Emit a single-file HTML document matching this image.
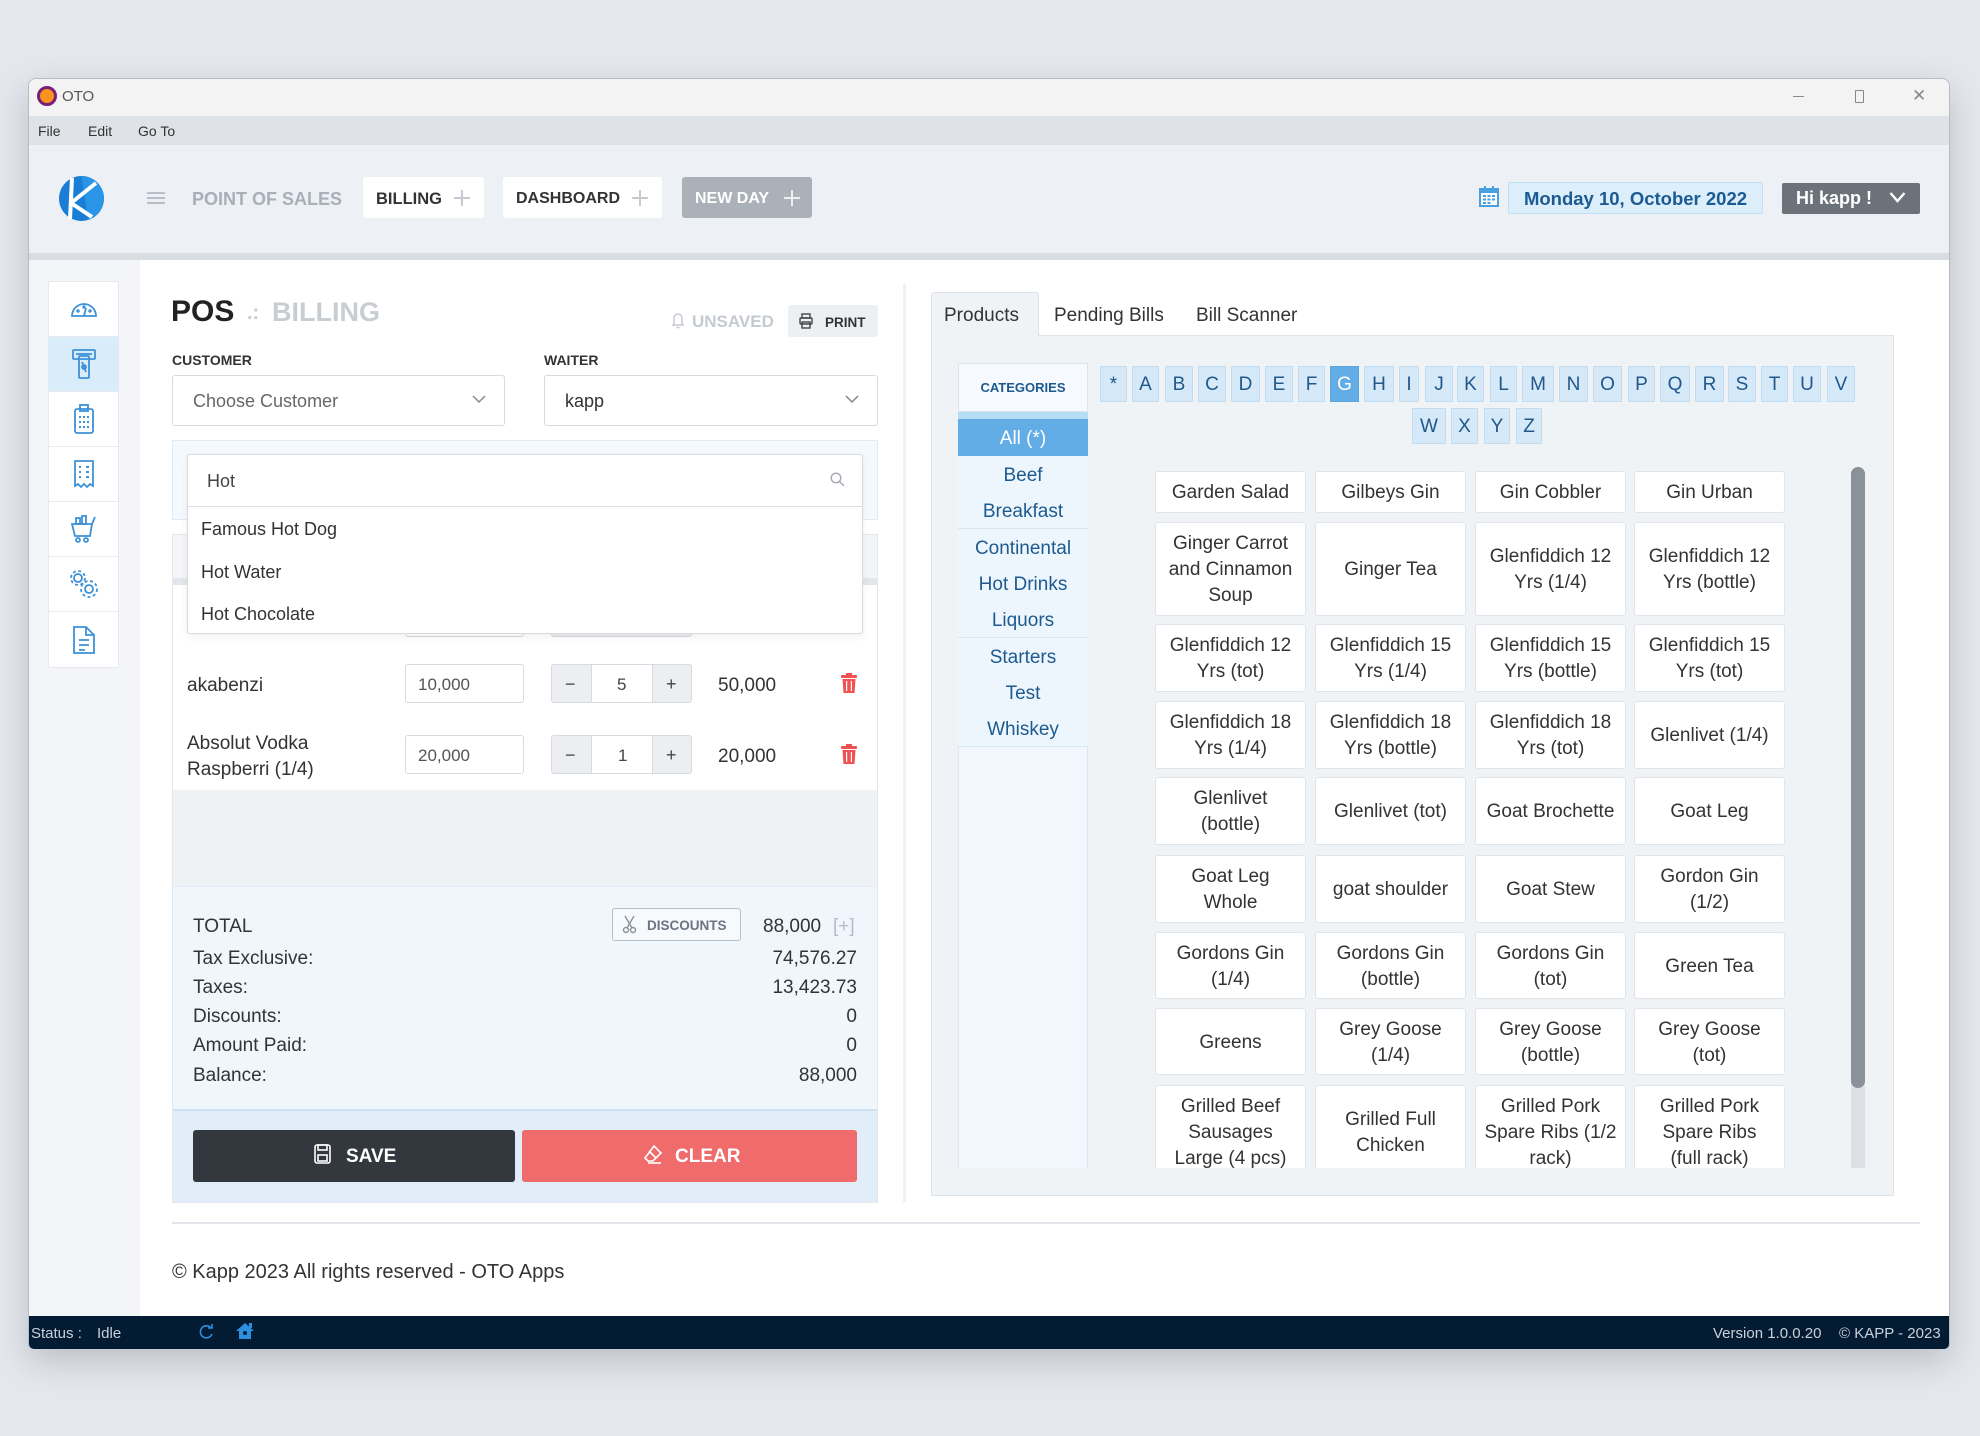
<!DOCTYPE html>
<html><head><meta charset="utf-8">
<style>
*{box-sizing:border-box;margin:0;padding:0}
body{width:1980px;height:1436px;background:#e4e8ee;position:relative;overflow:hidden;font-family:"Liberation Sans",Arial,sans-serif;color:#333}
.a{position:absolute}
.t{position:absolute;white-space:nowrap}
.lb{position:absolute;background:#d5e9f8;border:1px solid #c0ddf3;color:#21578b;font-size:19px;text-align:center;line-height:36px;height:36px}
.cat{position:absolute;left:958px;width:130px;height:37px;border-bottom:1px solid #d8e6f1;text-align:center;line-height:39px;font-size:19px;color:#1d5a8f;background:#eef6fd}
.pc{position:absolute;width:151px;background:#fff;border:1px solid #e1e5ea;border-radius:3px;display:flex;align-items:center;justify-content:center;text-align:center;font-size:19px;line-height:26px;color:#333;white-space:nowrap;padding-top:2px}
.side{position:absolute;left:49px;width:69px;height:55px;border-bottom:1px solid #e8ebef;display:flex;align-items:center;justify-content:center}
.inp{position:absolute;background:#fff;border:1px solid #d7dbe0;border-radius:3px}
.tr{position:absolute;font-size:19px;color:#333;line-height:24px;margin-top:2.5px;white-space:nowrap}
</style></head>
<body>
<!-- window -->
<div class="a" style="left:28px;top:78px;width:1922px;height:1271px;border-radius:8px 8px 5px 5px;box-shadow:0 12px 34px rgba(0,0,0,.18);background:#fff;border:1px solid #b8bcc2"></div>
<div class="a" style="left:29px;top:79px;width:1920px;height:37px;background:#f3f3f3;border-radius:8px 8px 0 0"></div>
<div class="a" style="left:29px;top:116px;width:1920px;height:29px;background:#dfe2e7"></div>
<div class="a" style="left:29px;top:145px;width:1920px;height:108px;background:#edf0f5"></div>
<div class="a" style="left:29px;top:253px;width:1920px;height:7px;background:#d9dde2"></div>
<div class="a" style="left:29px;top:260px;width:111px;height:1056px;background:#f3f5f8"></div>
<div class="a" style="left:29px;top:1316px;width:1920px;height:33px;background:#031c33;border-radius:0 0 5px 5px"></div>

<!-- title bar -->
<div class="a" style="left:37px;top:86px;width:20px;height:20px;border-radius:50%;background:#f7931e;border:3px solid #7b1e7a"></div>
<div class="t" style="left:62px;top:87px;font-size:15px;line-height:20px;color:#555">OTO</div>
<div class="a" style="left:1793px;top:96px;width:11px;height:1px;background:#888"></div>
<div class="a" style="left:1855px;top:90px;width:9px;height:13px;border:1px solid #888;border-radius:1px"></div>
<div class="t" style="left:1912px;top:86px;font-size:17px;line-height:20px;color:#888">✕</div>

<!-- menu -->
<div class="t" style="left:38px;top:122px;font-size:14px;line-height:18px">File</div>
<div class="t" style="left:88px;top:122px;font-size:14px;line-height:18px">Edit</div>
<div class="t" style="left:138px;top:122px;font-size:14px;line-height:18px">Go To</div>

<!-- header -->
<svg class="a" style="left:58px;top:175px" width="47" height="47" viewBox="0 0 47 47">
<circle cx="23.5" cy="23.5" r="22.5" fill="#1a7fd4"/>
<path d="M23.5 1 A22.5 22.5 0 0 1 46 23.5 A22.5 22.5 0 0 1 30 45 Z" fill="#2a95e6"/>
<path d="M14 3 L12 44" stroke="#fff" stroke-width="4"/>
<path d="M13 28 L38 8" stroke="#fff" stroke-width="4"/>
<path d="M13 28 L34 42" stroke="#fff" stroke-width="4"/>
</svg>
<div class="a" style="left:147px;top:192px;width:18px;height:2px;background:#b8bec7"></div>
<div class="a" style="left:147px;top:197px;width:18px;height:2px;background:#b8bec7"></div>
<div class="a" style="left:147px;top:202px;width:18px;height:2px;background:#b8bec7"></div>
<div class="t" style="left:192px;top:188px;font-size:18px;line-height:22px;font-weight:bold;color:#a9afb8">POINT OF SALES</div>

<div class="a" style="left:363px;top:177px;width:121px;height:41px;background:#fff;border-radius:3px"></div>
<div class="t" style="left:376px;top:188px;font-size:16.5px;line-height:22px;font-weight:bold;color:#333">BILLING</div>
<div class="a" style="left:454px;top:197px;width:16px;height:1.5px;background:#c6cbd1"></div>
<div class="a" style="left:461px;top:190px;width:1.5px;height:16px;background:#c6cbd1"></div>

<div class="a" style="left:503px;top:177px;width:159px;height:41px;background:#fff;border-radius:3px"></div>
<div class="t" style="left:516px;top:188px;font-size:16px;line-height:22px;font-weight:bold;color:#333">DASHBOARD</div>
<div class="a" style="left:632px;top:197px;width:16px;height:1.5px;background:#c6cbd1"></div>
<div class="a" style="left:639px;top:190px;width:1.5px;height:16px;background:#c6cbd1"></div>

<div class="a" style="left:682px;top:177px;width:130px;height:41px;background:#aab1b9;border-radius:3px"></div>
<div class="t" style="left:695px;top:188px;font-size:16px;line-height:22px;font-weight:bold;color:#fff">NEW DAY</div>
<div class="a" style="left:784px;top:197px;width:16px;height:1.5px;background:#eef0f3"></div>
<div class="a" style="left:791px;top:190px;width:1.5px;height:16px;background:#eef0f3"></div>

<!-- calendar -->
<svg class="a" style="left:1479px;top:186px" width="20" height="21" viewBox="0 0 20 21">
<rect x="1" y="3" width="18" height="17" fill="#fff" stroke="#4a9fe0" stroke-width="2"/>
<rect x="1" y="3" width="18" height="4" fill="#4a9fe0"/>
<rect x="5" y="0" width="2" height="5" fill="#4a9fe0"/><rect x="13" y="0" width="2" height="5" fill="#4a9fe0"/>
<g fill="#4a9fe0"><rect x="4" y="9" width="3" height="2"/><rect x="8.5" y="9" width="3" height="2"/><rect x="13" y="9" width="3" height="2"/><rect x="4" y="12.5" width="3" height="2"/><rect x="8.5" y="12.5" width="3" height="2"/><rect x="13" y="12.5" width="3" height="2"/><rect x="4" y="16" width="3" height="2"/><rect x="8.5" y="16" width="3" height="2"/></g>
</svg>
<div class="a" style="left:1508px;top:182px;width:255px;height:32px;background:#dbeefa;border:1px solid #bfdff5;border-radius:2px;text-align:center;line-height:31px;font-size:18.5px;font-weight:bold;color:#1c5a92">Monday 10, October 2022</div>
<div class="a" style="left:1782px;top:183px;width:138px;height:31px;background:#6b727a;border-radius:2px"></div>
<div class="t" style="left:1796px;top:187px;font-size:18px;line-height:23px;font-weight:bold;color:#fff">Hi kapp !</div>
<svg class="a" style="left:1889px;top:191px" width="17" height="12" viewBox="0 0 17 12"><path d="M1.5 2 L8.5 10 L15.5 2" fill="none" stroke="#fff" stroke-width="2.4"/></svg>

<!-- sidebar nav -->
<div class="a" style="left:48px;top:281px;width:71px;height:387px;background:#fff;border:1px solid #e6e9ed"></div>
<div class="side" style="top:282px">
<svg width="28" height="22" viewBox="0 0 28 22" fill="none" stroke="#3d91d8" stroke-width="1.8"><path d="M2 18 A12 12 0 0 1 26 18 Z"/><path d="M14 18 L16 10"/><circle cx="8" cy="13" r=".8"/><circle cx="14" cy="9" r=".8"/><circle cx="20" cy="13" r=".8"/></svg></div>
<div class="side" style="top:337px;background:#d9ecfa">
<svg width="26" height="32" viewBox="0 0 26 32" fill="none" stroke="#3d91d8" stroke-width="1.8"><rect x="2" y="2" width="22" height="9" rx="1"/><path d="M5 6 H21"/><rect x="8" y="8" width="10" height="22" rx="1"/><path d="M11 14 L15 24"/><circle cx="13" cy="19" r="2"/></svg></div>
<div class="side" style="top:392px">
<svg width="22" height="32" viewBox="0 0 22 32" fill="none" stroke="#3d91d8" stroke-width="1.8"><rect x="2" y="6" width="18" height="24" rx="2"/><rect x="7" y="2" width="8" height="6"/><g fill="#3d91d8" stroke="none"><rect x="6" y="13" width="2" height="2"/><rect x="10" y="13" width="2" height="2"/><rect x="14" y="13" width="2" height="2"/><rect x="6" y="18" width="2" height="2"/><rect x="10" y="18" width="2" height="2"/><rect x="14" y="18" width="2" height="2"/><rect x="6" y="23" width="2" height="2"/><rect x="10" y="23" width="2" height="2"/><rect x="14" y="23" width="2" height="2"/></g></svg></div>
<div class="side" style="top:447px">
<svg width="22" height="30" viewBox="0 0 22 30" fill="none" stroke="#3d91d8" stroke-width="1.8"><path d="M2 2 H20 V27 L17 25 L14 28 L11 25 L8 28 L5 25 L2 27 Z"/><g fill="#3d91d8" stroke="none"><rect x="6" y="7" width="2" height="2"/><rect x="13" y="7" width="3" height="2"/><rect x="6" y="12" width="2" height="2"/><rect x="13" y="12" width="3" height="2"/><rect x="6" y="17" width="2" height="2"/><rect x="13" y="17" width="3" height="2"/></g></svg></div>
<div class="side" style="top:502px">
<svg width="28" height="30" viewBox="0 0 28 30" fill="none" stroke="#3d91d8" stroke-width="1.8"><path d="M2 10 H22 L20 22 H5 Z"/><path d="M22 10 L25 3"/><rect x="6" y="4" width="4" height="6"/><rect x="12" y="2" width="4" height="8"/><circle cx="8" cy="26" r="2"/><circle cx="16" cy="26" r="2"/></svg></div>
<div class="side" style="top:557px">
<svg width="30" height="30" viewBox="0 0 30 30" fill="none" stroke="#3d91d8" stroke-width="1.8"><circle cx="9" cy="9" r="4"/><circle cx="9" cy="9" r="7" stroke-dasharray="3 2.5"/><circle cx="20" cy="20" r="4"/><circle cx="20" cy="20" r="8" stroke-dasharray="3 2.5"/></svg></div>
<div class="side" style="top:612px;border-bottom:none">
<svg width="24" height="30" viewBox="0 0 24 30" fill="none" stroke="#3d91d8" stroke-width="1.8"><path d="M2 2 H14 L22 10 V28 H2 Z"/><path d="M14 2 V10 H22"/><path d="M7 15 H17 M7 20 H17 M7 25 H13"/></svg></div>

<!-- POS title -->
<div class="t" style="left:171px;top:295px;font-size:30px;line-height:34px;font-weight:bold;color:#222">POS</div>
<div class="t" style="left:247px;top:301px;font-size:20px;line-height:24px;font-weight:bold;color:#c5cad1">.:</div>
<div class="t" style="left:272px;top:296px;font-size:27px;line-height:32px;font-weight:bold;color:#c8cdd4">BILLING</div>
<svg class="a" style="left:671px;top:311px" width="14" height="19" viewBox="0 0 14 19" fill="none" stroke="#c5cad1" stroke-width="1.5"><path d="M3 14 V7 A4 4 0 0 1 11 7 V14 Z M1 14 H13 M5.5 16.5 H8.5"/></svg>
<div class="t" style="left:692px;top:312px;font-size:17px;line-height:20px;font-weight:bold;color:#c5cad1">UNSAVED</div>
<div class="a" style="left:788px;top:305px;width:90px;height:32px;background:#edf0f3;border-radius:3px"></div>
<svg class="a" style="left:799px;top:313px" width="14" height="16" viewBox="0 0 14 16" fill="none" stroke="#444" stroke-width="1.4"><rect x="3" y="1" width="8" height="4"/><rect x="1" y="5" width="12" height="6" rx="1"/><rect x="3" y="9" width="8" height="6"/></svg>
<div class="t" style="left:825px;top:314px;font-size:13.5px;line-height:17px;font-weight:bold;color:#333">PRINT</div>

<div class="t" style="left:172px;top:352px;font-size:14px;line-height:17px;font-weight:bold;color:#333">CUSTOMER</div>
<div class="t" style="left:544px;top:352px;font-size:14px;line-height:17px;font-weight:bold;color:#333">WAITER</div>
<div class="inp" style="left:172px;top:375px;width:333px;height:51px"></div>
<div class="t" style="left:193px;top:390px;font-size:18px;line-height:22px;color:#666">Choose Customer</div>
<svg class="a" style="left:472px;top:395px" width="14" height="9" viewBox="0 0 14 9"><path d="M1 1 L7 7 L13 1" fill="none" stroke="#888" stroke-width="1.5"/></svg>
<div class="inp" style="left:544px;top:375px;width:334px;height:51px"></div>
<div class="t" style="left:565px;top:390px;font-size:18px;line-height:22px;color:#333">kapp</div>
<svg class="a" style="left:845px;top:395px" width="14" height="9" viewBox="0 0 14 9"><path d="M1 1 L7 7 L13 1" fill="none" stroke="#888" stroke-width="1.5"/></svg>

<!-- search panel -->
<div class="a" style="left:172px;top:440px;width:706px;height:80px;background:#f4f9fd;border:1px solid #e1ecf6"></div>

<!-- items table -->
<div class="a" style="left:172px;top:534px;width:706px;height:669px;background:#fff;border:1px solid #e3e8ee"></div>
<div class="a" style="left:173px;top:535px;width:704px;height:43px;background:#f3f5f8"></div>
<div class="a" style="left:173px;top:578px;width:704px;height:7px;background:#e3e6ea"></div>
<!-- hidden row -->
<div class="inp" style="left:405px;top:598px;width:119px;height:39px"></div>
<div class="inp" style="left:551px;top:598px;width:141px;height:39px;background:#eceef1"></div>

<div class="tr" style="left:187px;top:671px">akabenzi</div>
<div class="inp" style="left:405px;top:664px;width:119px;height:39px"></div>
<div class="t" style="left:418px;top:674px;font-size:17px;line-height:21px;color:#555">10,000</div>
<div class="inp" style="left:551px;top:664px;width:141px;height:39px;background:#eceef1"></div>
<div class="a" style="left:591px;top:665px;width:62px;height:37px;background:#fff;border-left:1px solid #d7dbe0;border-right:1px solid #d7dbe0"></div>
<div class="t" style="left:565px;top:673px;font-size:18px;line-height:22px;color:#444">−</div>
<div class="t" style="left:617px;top:674px;font-size:17px;line-height:21px;color:#444">5</div>
<div class="t" style="left:666px;top:673px;font-size:18px;line-height:22px;color:#444">+</div>
<div class="tr" style="left:718px;top:671px">50,000</div>

<div class="tr" style="left:187px;top:729px">Absolut Vodka</div>
<div class="tr" style="left:187px;top:755px">Raspberri (1/4)</div>
<div class="inp" style="left:405px;top:735px;width:119px;height:39px"></div>
<div class="t" style="left:418px;top:745px;font-size:17px;line-height:21px;color:#555">20,000</div>
<div class="inp" style="left:551px;top:735px;width:141px;height:39px;background:#eceef1"></div>
<div class="a" style="left:591px;top:736px;width:62px;height:37px;background:#fff;border-left:1px solid #d7dbe0;border-right:1px solid #d7dbe0"></div>
<div class="t" style="left:565px;top:744px;font-size:18px;line-height:22px;color:#444">−</div>
<div class="t" style="left:618px;top:745px;font-size:17px;line-height:21px;color:#444">1</div>
<div class="t" style="left:666px;top:744px;font-size:18px;line-height:22px;color:#444">+</div>
<div class="tr" style="left:718px;top:742px">20,000</div>

<svg class="a" style="left:841px;top:673px" width="16" height="20" viewBox="0 0 16 20" fill="#f05252"><rect x="0" y="2" width="16" height="3" rx="1"/><rect x="5" y="0" width="6" height="3"/><path d="M1.5 6 H14.5 L13.5 20 H2.5 Z"/><g fill="#fff"><rect x="5" y="8" width="1.2" height="10"/><rect x="9.8" y="8" width="1.2" height="10"/></g></svg>
<svg class="a" style="left:841px;top:744px" width="16" height="20" viewBox="0 0 16 20" fill="#f05252"><rect x="0" y="2" width="16" height="3" rx="1"/><rect x="5" y="0" width="6" height="3"/><path d="M1.5 6 H14.5 L13.5 20 H2.5 Z"/><g fill="#fff"><rect x="5" y="8" width="1.2" height="10"/><rect x="9.8" y="8" width="1.2" height="10"/></g></svg>

<div class="a" style="left:173px;top:790px;width:704px;height:96px;background:#eff2f5"></div>
<div class="a" style="left:173px;top:886px;width:704px;height:223px;background:#eff7fd;border-top:1px solid #e3ecf4"></div>
<div class="tr" style="left:193px;top:912px">TOTAL</div>
<div class="a" style="left:612px;top:908px;width:129px;height:33px;border:1.5px solid #b8bec6;border-radius:3px;background:#f7fafd"></div>
<svg class="a" style="left:622px;top:915px" width="15" height="19" viewBox="0 0 15 19" fill="none" stroke="#8a929c" stroke-width="1.4"><path d="M3 1 L10 13 M12 1 L5 13"/><circle cx="4" cy="15" r="2.5"/><circle cx="11" cy="15" r="2.5"/></svg>
<div class="t" style="left:647px;top:917px;font-size:13.5px;line-height:17px;font-weight:bold;color:#6b7480">DISCOUNTS</div>
<div class="tr" style="left:763px;top:912px">88,000</div>
<div class="tr" style="left:833px;top:912px;color:#b6bcc4">[+]</div>
<div class="tr" style="left:193px;top:944px">Tax Exclusive:</div>
<div class="tr" style="left:193px;top:973px">Taxes:</div>
<div class="tr" style="left:193px;top:1002px">Discounts:</div>
<div class="tr" style="left:193px;top:1031px">Amount Paid:</div>
<div class="tr" style="left:193px;top:1061px">Balance:</div>
<div class="tr" style="left:557px;width:300px;text-align:right;top:944px">74,576.27</div>
<div class="tr" style="left:557px;width:300px;text-align:right;top:973px">13,423.73</div>
<div class="tr" style="left:557px;width:300px;text-align:right;top:1002px">0</div>
<div class="tr" style="left:557px;width:300px;text-align:right;top:1031px">0</div>
<div class="tr" style="left:557px;width:300px;text-align:right;top:1061px">88,000</div>

<div class="a" style="left:173px;top:1109px;width:704px;height:93px;background:#e1eef9;border-top:2px solid #cde2f3"></div>
<div class="a" style="left:193px;top:1130px;width:322px;height:52px;background:#33383e;border-radius:3px"></div>
<svg class="a" style="left:314px;top:1144px" width="17" height="20" viewBox="0 0 17 20" fill="none" stroke="#fff" stroke-width="1.6"><rect x="1" y="1" width="15" height="18" rx="2"/><rect x="4" y="1" width="9" height="5"/><rect x="4" y="11" width="9" height="6"/></svg>
<div class="t" style="left:346px;top:1146px;font-size:19px;line-height:22px;font-weight:bold;color:#fff">SAVE</div>
<div class="a" style="left:522px;top:1130px;width:335px;height:52px;background:#f06b6b;border-radius:3px"></div>
<svg class="a" style="left:643px;top:1144px" width="20" height="20" viewBox="0 0 20 20" fill="none" stroke="#fff" stroke-width="1.6"><path d="M11 2 L18 9 L10 17 L5 17 L2 14 Z"/><path d="M6 7 L13 14"/><path d="M5 19 H18"/></svg>
<div class="t" style="left:675px;top:1146px;font-size:19px;line-height:22px;font-weight:bold;color:#fff">CLEAR</div>

<!-- search input + dropdown -->
<div class="a" style="left:187px;top:454px;width:676px;height:180px;background:#fff;border:1px solid #d7dbe0;border-radius:3px;box-shadow:0 3px 8px rgba(0,0,0,.06)"></div>
<div class="a" style="left:188px;top:506px;width:674px;height:1px;background:#dcdfe3"></div>
<div class="t" style="left:207px;top:470px;font-size:18px;line-height:22px;color:#444">Hot</div>
<svg class="a" style="left:830px;top:472px" width="15" height="15" viewBox="0 0 15 15" fill="none" stroke="#a6acb4" stroke-width="1.5"><circle cx="6" cy="6" r="4.8"/><path d="M9.5 9.5 L14 14"/></svg>
<div class="t" style="left:201px;top:518px;font-size:18px;line-height:22px;color:#333">Famous Hot Dog</div>
<div class="t" style="left:201px;top:561px;font-size:18px;line-height:22px;color:#333">Hot Water</div>
<div class="t" style="left:201px;top:603px;font-size:18px;line-height:22px;color:#333">Hot Chocolate</div>

<!-- divider -->
<div class="a" style="left:903px;top:284px;width:3px;height:918px;background:#edf1f5"></div>

<!-- right tabs -->
<div class="a" style="left:931px;top:335px;width:963px;height:861px;background:#f0f3f6;border:1px solid #dfe3e8"></div>
<div class="a" style="left:931px;top:292px;width:108px;height:45px;background:#f0f3f6;border:1px solid #dfe3e8;border-bottom:none;border-radius:3px 3px 0 0"></div>
<div class="t" style="left:944px;top:304px;font-size:19px;line-height:24px;color:#333">Products</div>
<div class="t" style="left:1054px;top:304px;font-size:19px;line-height:24px;color:#333">Pending Bills</div>
<div class="t" style="left:1196px;top:304px;font-size:19px;line-height:24px;color:#333">Bill Scanner</div>

<!-- categories -->
<div class="a" style="left:958px;top:363px;width:130px;height:805px;background:#f1f7fc;border-left:1px solid #dbe7f1;border-right:1px solid #dbe7f1"></div>
<div class="a" style="left:958px;top:363px;width:130px;height:49px;background:#f6fafe;border:1px solid #d8e6f1;text-align:center;line-height:48px;font-size:13px;font-weight:bold;color:#1d5a8f">CATEGORIES</div>
<div class="a" style="left:958px;top:412px;width:130px;height:7px;background:#b6dcf6"></div>
<div class="cat" style="top:419px;background:#63ade6;color:#fff;border-bottom:none">All (*)</div>
<div class="cat" style="top:456px">Beef</div>
<div class="cat" style="top:492px">Breakfast</div>
<div class="cat" style="top:529px">Continental</div>
<div class="cat" style="top:565px">Hot Drinks</div>
<div class="cat" style="top:601px">Liquors</div>
<div class="cat" style="top:638px">Starters</div>
<div class="cat" style="top:674px">Test</div>
<div class="cat" style="top:710px">Whiskey</div>

<!-- letters -->
<div class="lb" style="left:1100px;top:366px;width:27px">*</div>
<div class="lb" style="left:1132px;top:366px;width:27px">A</div>
<div class="lb" style="left:1165px;top:366px;width:28px">B</div>
<div class="lb" style="left:1198px;top:366px;width:28px">C</div>
<div class="lb" style="left:1231px;top:366px;width:29px">D</div>
<div class="lb" style="left:1265px;top:366px;width:28px">E</div>
<div class="lb" style="left:1298px;top:366px;width:27px">F</div>
<div class="lb" style="left:1330px;top:366px;width:29px;background:#62ade6;border-color:#5aa4dd;color:#fff">G</div>
<div class="lb" style="left:1364px;top:366px;width:30px">H</div>
<div class="lb" style="left:1399px;top:366px;width:20px">I</div>
<div class="lb" style="left:1425px;top:366px;width:28px">J</div>
<div class="lb" style="left:1457px;top:366px;width:27px">K</div>
<div class="lb" style="left:1490px;top:366px;width:27px">L</div>
<div class="lb" style="left:1522px;top:366px;width:32px">M</div>
<div class="lb" style="left:1559px;top:366px;width:29px">N</div>
<div class="lb" style="left:1593px;top:366px;width:29px">O</div>
<div class="lb" style="left:1628px;top:366px;width:27px">P</div>
<div class="lb" style="left:1660px;top:366px;width:30px">Q</div>
<div class="lb" style="left:1695px;top:366px;width:29px">R</div>
<div class="lb" style="left:1728px;top:366px;width:28px">S</div>
<div class="lb" style="left:1761px;top:366px;width:27px">T</div>
<div class="lb" style="left:1793px;top:366px;width:28px">U</div>
<div class="lb" style="left:1827px;top:366px;width:28px">V</div>
<div class="lb" style="left:1412px;top:408px;width:34px">W</div>
<div class="lb" style="left:1451px;top:408px;width:27px">X</div>
<div class="lb" style="left:1484px;top:408px;width:26px">Y</div>
<div class="lb" style="left:1516px;top:408px;width:26px">Z</div>

<!-- scrollbar -->
<div class="a" style="left:1851px;top:467px;width:14px;height:701px;background:#dde1e6;border-radius:7px 7px 0 0"></div>
<div class="a" style="left:1851px;top:467px;width:14px;height:621px;background:#8b9198;border-radius:7px"></div>

<!-- product grid -->
<div class="a" style="left:1150px;top:460px;width:650px;height:708px;overflow:hidden">
<div class="pc" style="left:5px;top:11px;height:42px">Garden Salad</div>
<div class="pc" style="left:165px;top:11px;height:42px">Gilbeys Gin</div>
<div class="pc" style="left:325px;top:11px;height:42px">Gin Cobbler</div>
<div class="pc" style="left:484px;top:11px;height:42px">Gin Urban</div>

<div class="pc" style="left:5px;top:62px;height:94px">Ginger Carrot<br>and Cinnamon<br>Soup</div>
<div class="pc" style="left:165px;top:62px;height:94px">Ginger Tea</div>
<div class="pc" style="left:325px;top:62px;height:94px">Glenfiddich 12<br>Yrs (1/4)</div>
<div class="pc" style="left:484px;top:62px;height:94px">Glenfiddich 12<br>Yrs (bottle)</div>

<div class="pc" style="left:5px;top:164px;height:68px">Glenfiddich 12<br>Yrs (tot)</div>
<div class="pc" style="left:165px;top:164px;height:68px">Glenfiddich 15<br>Yrs (1/4)</div>
<div class="pc" style="left:325px;top:164px;height:68px">Glenfiddich 15<br>Yrs (bottle)</div>
<div class="pc" style="left:484px;top:164px;height:68px">Glenfiddich 15<br>Yrs (tot)</div>

<div class="pc" style="left:5px;top:241px;height:68px">Glenfiddich 18<br>Yrs (1/4)</div>
<div class="pc" style="left:165px;top:241px;height:68px">Glenfiddich 18<br>Yrs (bottle)</div>
<div class="pc" style="left:325px;top:241px;height:68px">Glenfiddich 18<br>Yrs (tot)</div>
<div class="pc" style="left:484px;top:241px;height:68px">Glenlivet (1/4)</div>

<div class="pc" style="left:5px;top:317px;height:68px">Glenlivet<br>(bottle)</div>
<div class="pc" style="left:165px;top:317px;height:68px">Glenlivet (tot)</div>
<div class="pc" style="left:325px;top:317px;height:68px">Goat Brochette</div>
<div class="pc" style="left:484px;top:317px;height:68px">Goat Leg</div>

<div class="pc" style="left:5px;top:395px;height:68px">Goat Leg<br>Whole</div>
<div class="pc" style="left:165px;top:395px;height:68px">goat shoulder</div>
<div class="pc" style="left:325px;top:395px;height:68px">Goat Stew</div>
<div class="pc" style="left:484px;top:395px;height:68px">Gordon Gin<br>(1/2)</div>

<div class="pc" style="left:5px;top:472px;height:67px">Gordons Gin<br>(1/4)</div>
<div class="pc" style="left:165px;top:472px;height:67px">Gordons Gin<br>(bottle)</div>
<div class="pc" style="left:325px;top:472px;height:67px">Gordons Gin<br>(tot)</div>
<div class="pc" style="left:484px;top:472px;height:67px">Green Tea</div>

<div class="pc" style="left:5px;top:548px;height:67px">Greens</div>
<div class="pc" style="left:165px;top:548px;height:67px">Grey Goose<br>(1/4)</div>
<div class="pc" style="left:325px;top:548px;height:67px">Grey Goose<br>(bottle)</div>
<div class="pc" style="left:484px;top:548px;height:67px">Grey Goose<br>(tot)</div>

<div class="pc" style="left:5px;top:625px;height:94px">Grilled Beef<br>Sausages<br>Large (4 pcs)</div>
<div class="pc" style="left:165px;top:625px;height:94px">Grilled Full<br>Chicken</div>
<div class="pc" style="left:325px;top:625px;height:94px">Grilled Pork<br>Spare Ribs (1/2<br>rack)</div>
<div class="pc" style="left:484px;top:625px;height:94px">Grilled Pork<br>Spare Ribs<br>(full rack)</div>
</div>

<!-- footer -->
<div class="a" style="left:172px;top:1222px;width:1748px;height:2px;background:#e2e5e9"></div>
<div class="t" style="left:172px;top:1260px;font-size:20px;line-height:24px;color:#333">© Kapp 2023 All rights reserved - OTO Apps</div>

<!-- status bar -->
<div class="t" style="left:31px;top:1324px;font-size:15px;line-height:19px;color:#c9d1da">Status :</div>
<div class="t" style="left:97px;top:1324px;font-size:15px;line-height:19px;color:#c9d1da">Idle</div>
<svg class="a" style="left:199px;top:1324px" width="15" height="16" viewBox="0 0 15 16" fill="none" stroke="#2d8fe0" stroke-width="1.6"><path d="M12 4 A6 6 0 1 0 13 10"/><path d="M9 4 H13 V0"/></svg>
<svg class="a" style="left:235px;top:1322px" width="20" height="18" viewBox="0 0 20 18"><path d="M10 1 L19 9 H16 V17 H4 V9 H1 Z" fill="#2d8fe0"/><rect x="14" y="1" width="3" height="5" fill="#2d8fe0"/><circle cx="10" cy="11" r="2" fill="#031c33"/></svg>
<div class="t" style="left:1713px;top:1324px;font-size:15px;line-height:19px;color:#c9d1da">Version 1.0.0.20</div>
<div class="t" style="left:1839px;top:1324px;font-size:15px;line-height:19px;color:#c9d1da">© KAPP - 2023</div>
</body></html>
